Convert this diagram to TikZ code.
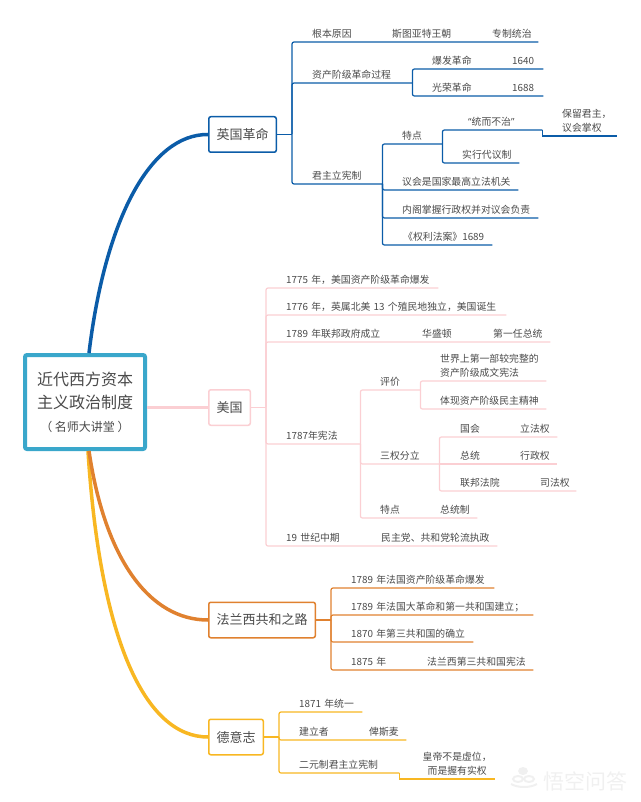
\documentclass[tikz,border=0pt]{standalone}
\usepackage{fontspec}
\setmainfont{Noto Sans CJK SC}
\newfontfamily\quotefont{Open Sans}
\definecolor{ukcolor}{HTML}{0B5CA8}
\definecolor{uscolor}{HTML}{FBCFD3}
\definecolor{frcolor}{HTML}{E0812F}
\definecolor{decolor}{HTML}{F8B722}
\definecolor{rootcolor}{HTML}{3AA7CB}
\definecolor{inkcolor}{HTML}{4A4A4A}
\definecolor{markcolor}{HTML}{F0F0F0}
\tikzstyle{rootbox} = [rectangle, rounded corners=2pt, minimum width=120pt, minimum height=94pt, inner sep=0pt, align=center, line width=4pt, draw=rootcolor, fill=white, text=inkcolor, font=\fontsize{16}{23}\selectfont]
\tikzstyle{topic} = [rectangle, rounded corners=2pt, inner sep=0pt, minimum height=35.5pt, line width=1.5pt, fill=white, text=inkcolor, font=\fontsize{13}{16}\selectfont]
\tikzstyle{item} = [anchor=south west, inner xsep=0pt, inner ysep=4.5pt, text depth=0pt, align=left, text=inkcolor, font=\fontsize{9.85}{14}\selectfont]
\tikzstyle{twolines} = [text depth=14pt]
\tikzstyle{curve} = [line width=3.5pt]
\tikzstyle{branch} = [line width=1.2pt, rounded corners=2pt]
\begin{document}
\begin{tikzpicture}[x=1pt, y=-1pt]
\useasboundingbox (0,0) rectangle (640,802);

% Centre and the four topics
\node (rootBox) [rootbox] at (85,402) {近代西方资本\\主义政治制度\\{\fontsize{12}{23}\selectfont （ 名师大讲堂 ）}};
\node (ukBox) [topic, draw=ukcolor, minimum width=67.5pt] at (242.5,134.5) {英国革命};
\node (usBox) [topic, draw=uscolor, minimum width=41.5pt] at (229.5,407.5) {美国};
\node (frBox) [topic, draw=frcolor, minimum width=106.5pt] at (262,620) {法兰西共和之路};
\node (deBox) [topic, draw=decolor, minimum width=54.5pt] at (236,737) {德意志};

% Spines
\coordinate (ukSpine) at (292,134.5);
\coordinate (usSpine) at (266,407.5);
\coordinate (frSpine) at (331,620);
\coordinate (deSpine) at (279,737);

% England - text
\node (ukCause) [item, text width=226pt] at (312,42) {根本原因};
\node (ukStuart) [item] at (392,42) {斯图亚特王朝};
\node (ukDespot) [item] at (492,42) {专制统治};
\node (ukProcess) [item, text width=100pt] at (312,83) {资产阶级革命过程};
\node (ukOutbreak) [item, text width=111pt] at (432,69) {爆发革命};
\node (ukYearA) [item] at (512,69) {1640};
\node (ukGlory) [item, text width=111pt] at (432,96) {光荣革命};
\node (ukYearB) [item] at (512,96) {1688};
\node (ukMonarchy) [item, text width=70pt] at (312,184) {君主立宪制};
\node (ukTraits) [item, text width=40pt] at (402,144) {特点};
\node (ukReign) [item, text width=74pt] at (468,130) {{\quotefont “}统而不治{\quotefont ”}};
\node (ukKeep) [item, twolines, text width=55pt] at (562,136) {保留君主，\\议会掌权};
\node (ukProxy) [item, text width=57pt] at (462,163) {实行代议制};
\node (ukParliament) [item, text width=116pt] at (402,190) {议会是国家最高立法机关};
\node (ukCabinet) [item, text width=136pt] at (402,218) {内阁掌握行政权并对议会负责};
\node (ukBill) [item, text width=89pt] at (403,245) {《权利法案》1689};

% USA - text
\node (usWar) [item, text width=152pt] at (286,288) {1775 年，美国资产阶级革命爆发};
\node (usBirth) [item, text width=220pt] at (286,315) {1776 年，英属北美 13 个殖民地独立，美国诞生};
\node (usFederal) [item, text width=264pt] at (286,342) {1789 年联邦政府成立};
\node (usWashington) [item] at (422,342) {华盛顿};
\node (usFirst) [item] at (493,342) {第一任总统};
\node (usCharter) [item, text width=74pt] at (286,444) {1787年宪法};
\node (usReview) [item, text width=40pt] at (380,390) {评价};
\node (usWorld) [item, twolines, text width=106pt] at (440,381) {世界上第一部较完整的\\资产阶级成文宪法};
\node (usSpirit) [item, text width=106pt] at (440,409) {体现资产阶级民主精神};
\node (usPowers) [item, text width=59pt] at (380,464) {三权分立};
\node (usCongress) [item, text width=97pt] at (460,437) {国会};
\node (usLegis) [item] at (520,437) {立法权};
\node (usPresident) [item, text width=97pt] at (460,464) {总统};
\node (usExec) [item] at (520,464) {行政权};
\node (usCourt) [item, text width=116pt] at (460,491) {联邦法院};
\node (usJudge) [item] at (540,491) {司法权};
\node (usTraits) [item, text width=97pt] at (380,518) {特点};
\node (usSystem) [item] at (440,518) {总统制};
\node (usCentury) [item, text width=211pt] at (286,546) {19 世纪中期};
\node (usParties) [item] at (381,546) {民主党、共和党轮流执政};

% France - text
\node (frWar) [item, text width=143pt] at (351,588) {1789 年法国资产阶级革命爆发};
\node (frFirst) [item, text width=182pt] at (351,615) {1789 年法国大革命和第一共和国建立；};
\node (frThird) [item, text width=122pt] at (351,642) {1870 年第三共和国的确立};
\node (frYear) [item, text width=182pt] at (351,670) {1875 年};
\node (frCharter) [item] at (427,670) {法兰西第三共和国宪法};

% Germany - text
\node (deUnity) [item, text width=63pt] at (299,712) {1871 年统一};
\node (deFounder) [item, text width=107pt] at (299,740) {建立者};
\node (deBismarck) [item] at (369,740) {俾斯麦};
\node (deDual) [item, text width=100pt] at (299,773) {二元制君主立宪制};
\node (deEmperor) [item, twolines, text width=76pt, align=center] at (419,779) {皇帝不是虚位，\\而是握有实权};

% Curves from the centre
\draw [curve, ukcolor] ([xshift=4pt]rootBox.north) .. controls (105,220) and (150,134) .. (ukBox.west);
\draw [curve, uscolor] (rootBox.east |- usBox.west) -- (usBox.west);
\draw [curve, decolor] ([xshift=3pt]rootBox.south) .. controls (100,640) and (145,737) .. (deBox.west);
\draw [curve, frcolor] ([xshift=4pt]rootBox.south) .. controls (105,560) and (150,620) .. (frBox.west);

% England - arrows
\draw [branch, ukcolor] (ukBox.east) -- (ukSpine);
\draw [branch, ukcolor] (ukSpine) |- (ukCause.south east);
\draw [branch, ukcolor] (ukSpine) |- (ukProcess.south east);
\draw [branch, ukcolor] (ukSpine) |- (ukMonarchy.south east);
\draw [branch, ukcolor] (ukProcess.south east) |- (ukOutbreak.south east);
\draw [branch, ukcolor] (ukProcess.south east) |- (ukGlory.south east);
\draw [branch, ukcolor] (ukMonarchy.south east) |- (ukTraits.south east);
\draw [branch, ukcolor] (ukMonarchy.south east) |- (ukParliament.south east);
\draw [branch, ukcolor] (ukMonarchy.south east) |- (ukCabinet.south east);
\draw [branch, ukcolor] (ukMonarchy.south east) |- (ukBill.south east);
\draw [branch, ukcolor] (ukTraits.south east) |- (ukReign.south east);
\draw [branch, ukcolor] (ukTraits.south east) |- (ukProxy.south east);
\draw [branch, ukcolor, rounded corners=0pt] (ukReign.south east) |- (ukKeep.south east);

% USA - arrows
\draw [branch, uscolor] (usBox.east) -- (usSpine);
\draw [branch, uscolor] (usSpine) |- (usWar.south east);
\draw [branch, uscolor] (usSpine) |- (usBirth.south east);
\draw [branch, uscolor] (usSpine) |- (usFederal.south east);
\draw [branch, uscolor] (usSpine) |- (usCharter.south east);
\draw [branch, uscolor] (usSpine) |- (usCentury.south east);
\draw [branch, uscolor] (usCharter.south east) |- (usReview.south east);
\draw [branch, uscolor] (usCharter.south east) |- (usPowers.south east);
\draw [branch, uscolor] (usCharter.south east) |- (usTraits.south east);
\draw [branch, uscolor] (usReview.south east) |- (usWorld.south east);
\draw [branch, uscolor] (usReview.south east) |- (usSpirit.south east);
\draw [branch, uscolor] (usPowers.south east) |- (usCongress.south east);
\draw [branch, uscolor] (usPowers.south east) -- (usPresident.south east);
\draw [branch, uscolor] (usPowers.south east) |- (usCourt.south east);

% France - arrows
\draw [branch, frcolor] (frBox.east) -- (frSpine);
\draw [branch, frcolor] (frSpine) |- (frWar.south east);
\draw [branch, frcolor] (frSpine) |- (frFirst.south east);
\draw [branch, frcolor] (frSpine) |- (frThird.south east);
\draw [branch, frcolor] (frSpine) |- (frYear.south east);

% Germany - arrows
\draw [branch, decolor] (deBox.east) -- (deSpine);
\draw [branch, decolor] (deSpine) |- (deUnity.south east);
\draw [branch, decolor] (deSpine) |- (deFounder.south east);
\draw [branch, decolor] (deSpine) |- (deDual.south east);
\draw [branch, decolor, rounded corners=0pt] (deDual.south east) |- (deEmperor.south east);

% Watermark
\fill [markcolor] (523,771) ellipse (5pt and 4pt);
\draw [markcolor, line width=2pt] (518,779) ellipse (5pt and 3pt);
\draw [markcolor, line width=2pt] (529,779) ellipse (5pt and 3pt);
\draw [markcolor, line width=2pt] (511,784) .. controls (518,788) and (530,788) .. (537,784);
\node (markText) [text=markcolor, inner sep=0pt, font=\fontsize{21}{21}\selectfont] at (585.5,781) {悟空问答};

\end{tikzpicture}
\end{document}
